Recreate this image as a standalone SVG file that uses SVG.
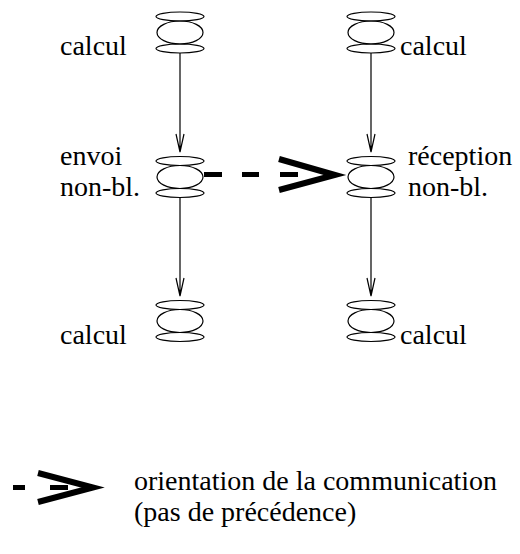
<svg xmlns="http://www.w3.org/2000/svg" width="520" height="554" viewBox="0 0 520 554">
<style>
.e{fill:none;stroke:#000;stroke-width:1.2}
.c{fill:none;stroke:#000;stroke-width:1.2}
.d{fill:none;stroke:#000;stroke-width:5}
.v{fill:none;stroke:#000;stroke-width:6;stroke-linejoin:miter;stroke-miterlimit:10}
text{font-family:Times,"Liberation Serif",Tinos,"Nimbus Roman","DejaVu Serif",serif;font-size:28px;fill:#000}
</style>
<defs>
<g id="proc">
<ellipse class="e" cx="0" cy="-16" rx="24" ry="4.5"/>
<ellipse class="e" cx="0" cy="0" rx="23" ry="11.5"/>
<ellipse class="e" cx="0" cy="16" rx="24" ry="4.5"/>
</g>
</defs>
<g id="connectors">
<path class="c" d="M180 53V152M176 134L180 152L184 134"/>
<path class="c" d="M180 197.5V296M176 278L180 296L184 278"/>
<path class="c" d="M371 53V152M367 134L371 152L375 134"/>
<path class="c" d="M371 197.5V296M367 278L371 296L375 278"/>
<path class="d" d="M204 174.5H222M242 174.5H259M280 174.5H298"/>
<path class="v" d="M279 159L335 175L279 190"/>
</g>
<g id="n1"><use href="#proc" x="180" y="32.5"/><text x="60" y="55">calcul</text></g>
<g id="n2"><use href="#proc" x="180" y="177"/><text x="60" y="165">envoi</text><text x="60" y="196">non-bl.</text></g>
<g id="n3"><use href="#proc" x="180" y="321"/><text x="60" y="344">calcul</text></g>
<g id="n4"><use href="#proc" x="371" y="32.5"/><text x="400" y="55">calcul</text></g>
<g id="n5"><use href="#proc" x="371" y="177"/><text x="408" y="165">réception</text><text x="408" y="196">non-bl.</text></g>
<g id="n6"><use href="#proc" x="371" y="321"/><text x="400" y="344">calcul</text></g>
<g id="legend">
<path class="d" d="M13 487.5H25M50 487.5H68"/>
<path class="v" d="M38 473L93 487.5L38 502"/>
<text x="134" y="490">orientation de la communication</text>
<text x="134" y="521">(pas de précédence)</text>
</g>
</svg>
